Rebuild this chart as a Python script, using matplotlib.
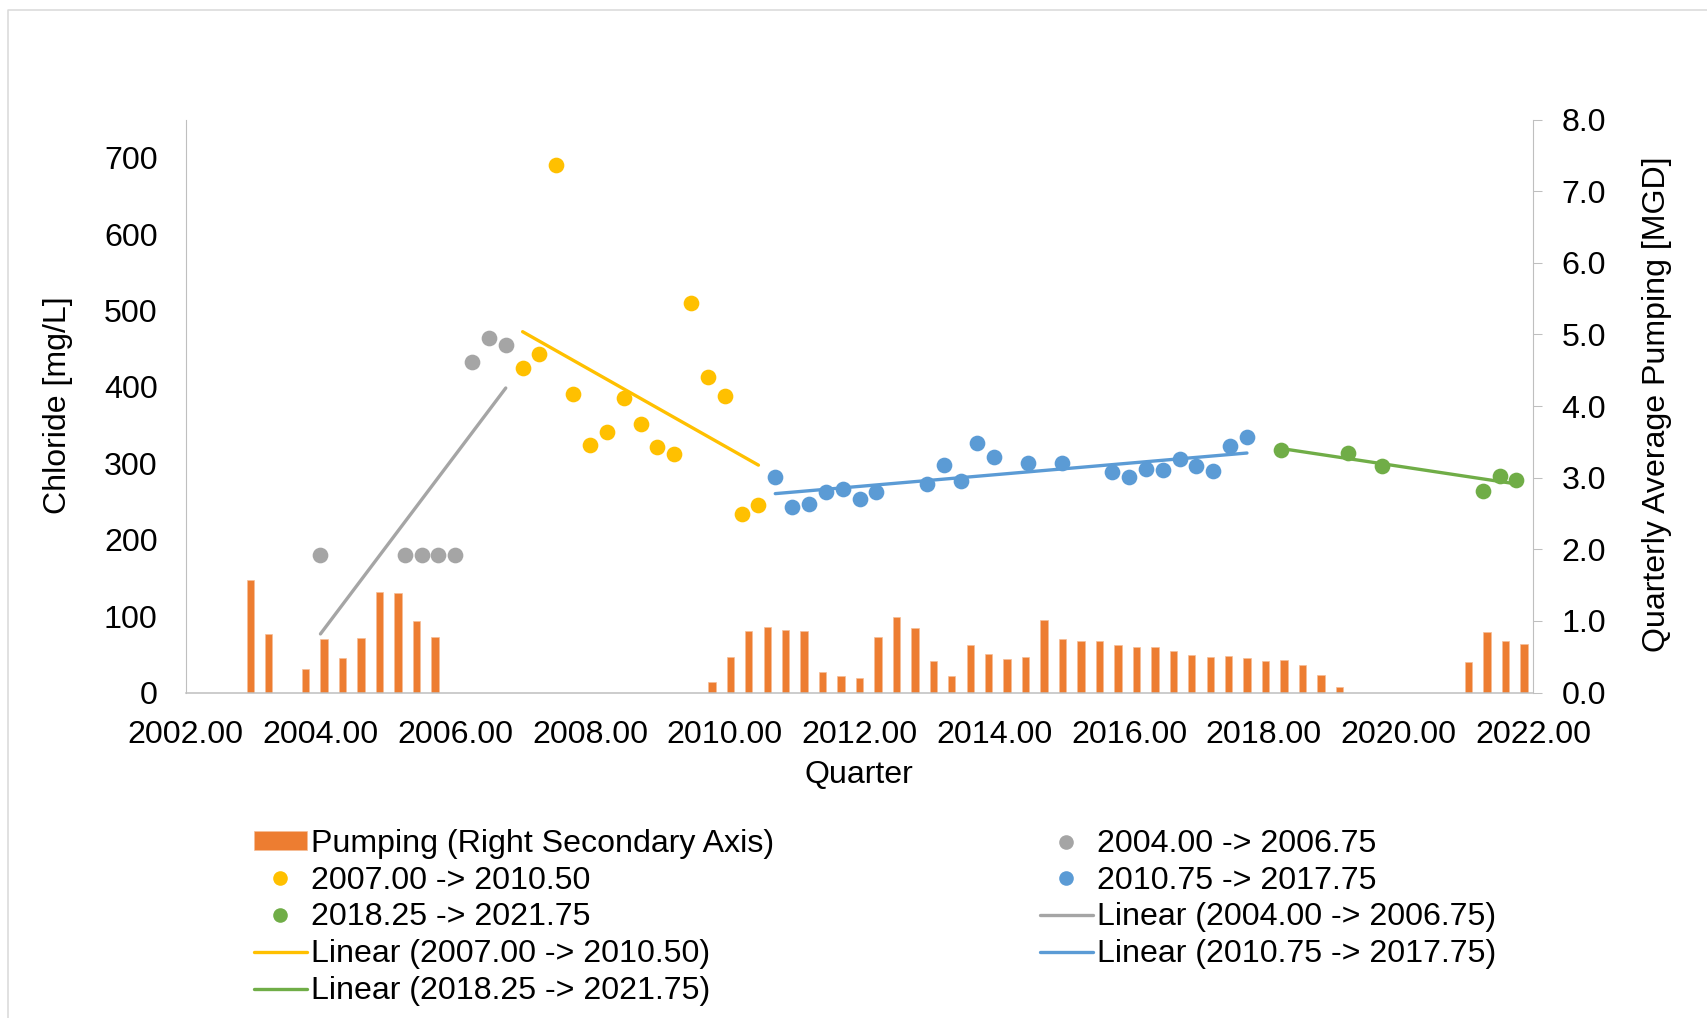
import numpy as np
import matplotlib
matplotlib.use("Agg")
import matplotlib.pyplot as plt
from matplotlib.lines import Line2D

plt.rcParams['font.family'] = ['Liberation Sans', 'DejaVu Sans']
FS = 23.1

# ---------------- data ----------------
gray_x = [2004.00, 2005.25, 2005.50, 2005.75, 2006.00, 2006.25, 2006.50, 2006.75]
gray_y = [180, 180, 180, 180, 180, 433, 464, 455]

yellow_x = [2007.00, 2007.25, 2007.50, 2007.75, 2008.00, 2008.25, 2008.50, 2008.75,
            2009.00, 2009.25, 2009.50, 2009.75, 2010.00, 2010.25, 2010.50]
yellow_y = [425, 443, 690, 391, 324, 341, 385, 351, 321, 312, 510, 413, 388, 234, 246]

blue_x = [2010.75, 2011.00, 2011.25, 2011.50, 2011.75, 2012.00, 2012.25, 2013.00,
          2013.25, 2013.50, 2013.75, 2014.00, 2014.50, 2015.00, 2015.75, 2016.00,
          2016.25, 2016.50, 2016.75, 2017.00, 2017.25, 2017.50, 2017.75]
blue_y = [282, 243, 247, 262, 267, 253, 262, 273, 298, 277, 326, 308, 301, 301,
          289, 282, 292, 291, 306, 296, 290, 322, 334]

green_x = [2018.25, 2019.25, 2019.75, 2021.25, 2021.50, 2021.75]
green_y = [317, 314, 297, 264, 284, 278]

# pumping on its own category axis (73 categories, 0 = no bar)
pumping_mgd = [0, 0, 0, 1.57, 0.81, 0, 0.33, 0.75, 0.48, 0.76, 1.40, 1.39, 1.00, 0.77,
               0, 0, 0, 0, 0, 0, 0, 0, 0, 0, 0, 0, 0, 0,
               0.15, 0.50, 0.86, 0.92, 0.87, 0.86, 0.28, 0.23, 0.20, 0.78, 1.05, 0.90,
               0.44, 0.23, 0.66, 0.54, 0.47, 0.49, 1.01, 0.75, 0.72, 0.72, 0.66, 0.63,
               0.64, 0.58, 0.52, 0.49, 0.51, 0.48, 0.44, 0.46, 0.39, 0.25, 0.08,
               0, 0, 0, 0, 0, 0,
               0.43, 0.85, 0.72, 0.68]

groups = [
    ("2004.00 -> 2006.75", gray_x, gray_y, "#A5A5A5"),
    ("2007.00 -> 2010.50", yellow_x, yellow_y, "#FFC000"),
    ("2010.75 -> 2017.75", blue_x, blue_y, "#5B9BD5"),
    ("2018.25 -> 2021.75", green_x, green_y, "#70AD47"),
]
BAR_COLOR = "#ED7D31"
AXIS_COLOR = "#BFBFBF"

# ---------------- figure ----------------
W, H = 1707, 1018
fig = plt.figure(figsize=(W / 100, H / 100), dpi=100)
pos = [185.7 / W, 1 - 692.5 / H, (1533.3 - 185.7) / W, (692.5 - 119.5) / H]

# bars (secondary axis, category x-axis)
axb = fig.add_axes(pos)
cat = np.arange(len(pumping_mgd))
vals = np.array(pumping_mgd, dtype=float)
mask = vals > 0
bars = axb.bar(cat[mask], vals[mask], width=0.4, color=BAR_COLOR,
               edgecolor="#F6BE98", linewidth=0.5)
axb.set_xlim(-0.5, len(pumping_mgd) - 0.5)
axb.set_ylim(0, 8)
axb.set_yticks(np.arange(0, 8.01, 1.0))
axb.yaxis.set_major_formatter(matplotlib.ticker.FuncFormatter(lambda v, p: f"{v:.1f}"))
axb.yaxis.tick_right()
axb.tick_params(axis='y', right=True, left=False, length=6.7, width=0.75,
                color=AXIS_COLOR, pad=13.5, labelsize=FS)
axb.set_xticks([])
for s in ['left', 'top', 'bottom']:
    axb.spines[s].set_visible(False)
axb.spines['right'].set_color(AXIS_COLOR)
axb.spines['right'].set_linewidth(0.8)

# scatter (primary)
ax = fig.add_axes(pos)
ax.set_facecolor('none')
scat_handles, line_handles = {}, {}
for label, xs, ys, col in groups:
    h, = ax.plot(xs, ys, 'o', color=col, markersize=11.3, markeredgewidth=0,
                 linestyle='none', zorder=3)
    scat_handles[label] = h
    k, b = np.polyfit(xs, ys, 1)
    xl = np.array([min(xs), max(xs)])
    lh, = ax.plot(xl, k * xl + b, '-', color=col, linewidth=2.4,
                  solid_capstyle='round', zorder=2)
    line_handles[label] = lh

ax.set_xlim(2002, 2022)
ax.set_ylim(0, 750)
ax.set_xticks(np.arange(2002, 2022.1, 2))
ax.xaxis.set_major_formatter(matplotlib.ticker.FuncFormatter(lambda v, p: f"{v:.2f}"))
ax.set_yticks(np.arange(0, 701, 100))
ax.tick_params(axis='x', length=0, pad=19.5, labelsize=FS)
ax.tick_params(axis='y', length=0, pad=20.2, labelsize=FS)
ax.spines['top'].set_visible(False)
ax.spines['right'].set_visible(False)
ax.spines['left'].set_color(AXIS_COLOR)
ax.spines['left'].set_linewidth(0.8)
ax.spines['bottom'].set_color(AXIS_COLOR)
ax.spines['bottom'].set_linewidth(1.1)

# axis titles
fig.text(58 / W, 1 - 405 / H, "Chloride [mg/L]", rotation=90, ha='center',
         va='center', fontsize=FS)
fig.text(1657 / W, 1 - 404 / H, "Quarterly Average Pumping [MGD]", rotation=90,
         ha='center', va='center', fontsize=FS)
fig.text(859 / W, 1 - 775 / H, "Quarter", ha='center', va='center', fontsize=FS)

# legends
g = [x[0] for x in groups]
col1_h = [bars, scat_handles[g[1]], scat_handles[g[3]], line_handles[g[1]], line_handles[g[3]]]
col1_l = ["Pumping (Right Secondary Axis)", g[1], g[3], f"Linear ({g[1]})", f"Linear ({g[3]})"]
col2_h = [scat_handles[g[0]], scat_handles[g[2]], line_handles[g[0]], line_handles[g[2]]]
col2_l = [g[0], g[2], f"Linear ({g[0]})", f"Linear ({g[2]})"]

leg_kw = dict(loc='upper left', borderpad=0, borderaxespad=0, frameon=False,
              handlelength=1.64, handletextpad=0.15, labelspacing=0.21,
              handleheight=0.5, fontsize=FS, markerscale=0.93)
leg1 = fig.legend(col1_h, col1_l, bbox_to_anchor=(254 / W, 1 - 829 / H), **leg_kw)
leg2 = fig.legend(col2_h, col2_l, bbox_to_anchor=(1040 / W, 1 - 829 / H), **leg_kw)

# chart border (top & left visible)
fig.add_artist(Line2D([7.5 / W, 7.5 / W, 1.05], [-0.05, 1 - 9.5 / H, 1 - 9.5 / H],
                      transform=fig.transFigure, color="#D9D9D9", linewidth=1.1))

fig.savefig("out.png", dpi=100)
